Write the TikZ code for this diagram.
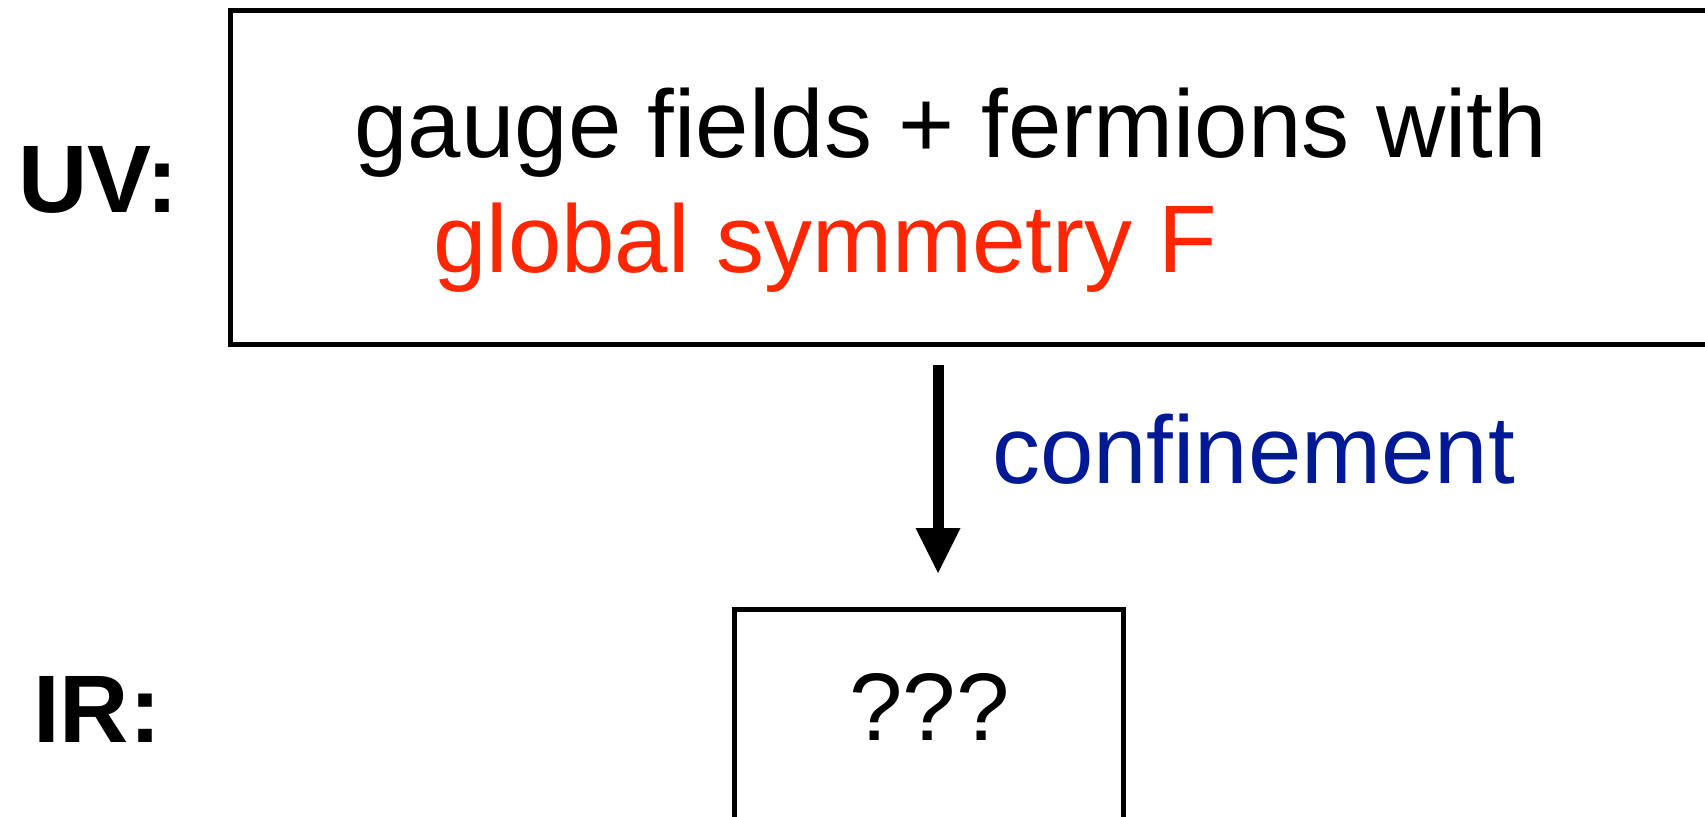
\documentclass[tikz,border=0pt]{standalone}
\usepackage{fontspec}
\setmainfont{Liberation Sans}
\usetikzlibrary{arrows.meta}
\definecolor{kred}{RGB}{255,38,0}
\definecolor{kblue}{RGB}{1,25,147}
\tikzset{
  bigtext/.style={inner sep=0pt, outer sep=0pt, font=\fontsize{96bp}{115bp}\selectfont},
  labeltext/.style={bigtext, font=\fontsize{96bp}{115bp}\selectfont\bfseries},
  boxframe/.style={draw=black, line width=5bp, inner sep=0pt, outer sep=0pt, anchor=north west},
  flowarrow/.style={line width=11bp, -{Triangle[width=45bp,length=45bp,line width=0pt]}}
}
\begin{document}
\begin{tikzpicture}[x=1bp,y=-1bp]
\useasboundingbox (0,0) rectangle (1705,817);
% boxes
\node[boxframe, minimum width=1530bp, minimum height=333bp] (uvbox) at (230,11) {};
\node[boxframe, minimum width=389bp, minimum height=300bp] (irbox) at (734.5,609) {};
% labels
\node[labeltext, anchor=base west] (uv) at (18,212) {UV:};
\node[labeltext, anchor=base west] (ir) at (33,742) {IR:};
% texts
\node[bigtext, anchor=base west] (line1) at (354.5,157) {gauge fields + fermions with};
\node[bigtext, anchor=base west, text=kred] (line2) at (433.5,272) {global symmetry F};
\node[bigtext, anchor=base west, text=kblue] (conf) at (992,483) {confinement};
\node[bigtext, anchor=base] (qqq) at (929.5,740) {???};
% arrow
\coordinate (atop) at (938,365);
\coordinate (atip) at (938,573);
\draw[flowarrow] (atop) -- (atip);
\end{tikzpicture}
\end{document}
